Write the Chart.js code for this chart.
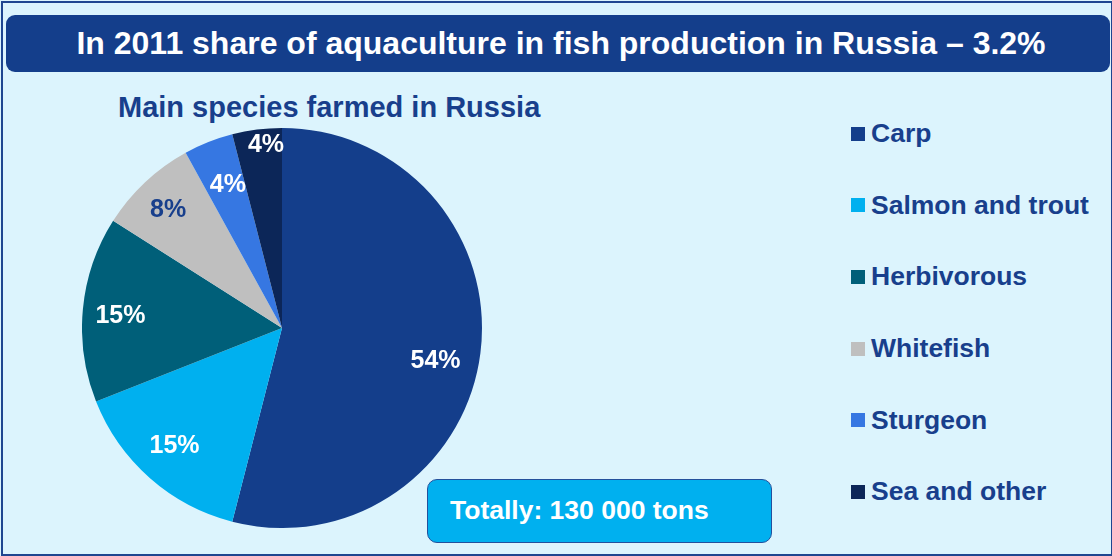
<!DOCTYPE html>
<html>
<head>
<meta charset="utf-8">
<script src="https://cdn.jsdelivr.net/npm/chart.js@4"></script>
<style>
  html, body { margin: 0; padding: 0; }
  body {
    width: 1112px; height: 556px; overflow: hidden; position: relative;
    background: #dcf4fd;
    font-family: "Liberation Sans", Arial, sans-serif;
  }
  #frame {
    position: absolute; left: 1px; top: 1px; width: 1108px; height: 551px;
    border: 2px solid #1f4690; box-sizing: content-box;
  }
  #title {
    position: absolute; left: 6px; top: 15px; width: 1104px; height: 57px;
    background: #143e8b; border-radius: 9px;
    color: #fff; font-weight: bold; font-size: 32px;
    line-height: 57px; text-align: center; padding-left: 6px; box-sizing: border-box;
  }
  #subtitle {
    position: absolute; left: 118px; top: 91px;
    color: #183f8c; font-weight: bold; font-size: 29px; line-height: 32px;
  }
  #pie { position: absolute; left: 82px; top: 128px; }
  #legend { position: absolute; left: 851px; top: 98px; }
  .row { height: 71.6px; display: flex; align-items: center; }
  .box { width: 14px; height: 14px; margin-right: 6px; }
  .row span { color: #183f8c; font-weight: bold; font-size: 26.5px; }
  #total {
    position: absolute; left: 427px; top: 479px; width: 345px; height: 64px;
    background: #00b0ef; border: 1.5px solid #24509c; border-radius: 10px;
    box-sizing: border-box; color: #fff; font-weight: bold; font-size: 26.5px;
    line-height: 61px; padding-left: 22px;
  }
</style>
</head>
<body>
<div id="frame"></div>
<div id="title">In 2011 share of aquaculture in fish production in Russia – 3.2%</div>
<div id="subtitle">Main species farmed in Russia</div>
<canvas id="pie" width="400" height="400"></canvas>
<div id="legend"></div>
<div id="total">Totally: 130 000 tons</div>

<script>
const species = ["Carp", "Salmon and trout", "Herbivorous", "Whitefish", "Sturgeon", "Sea and other"];
const shares = [54, 15, 15, 8, 4, 4];
const sliceColors = ["#143e8b", "#00b0ef", "#005f79", "#bfbfbf", "#3677e2", "#0c2658"];
const labelColors = ["#fff", "#fff", "#fff", "#183f8c", "#fff", "#fff"];
// label placement: share of radius and small turn (deg) off the slice middle
const labelRadius = [0.785, 0.8, 0.81, 0.82, 0.765, 0.92];
const labelTurn = [4.8, 0.8, -1.2, -0.8, 0.9, 2.2];

// legend built from the same arrays
const legend = document.getElementById("legend");
species.forEach((name, i) => {
    const row = document.createElement("div");
    row.className = "row";
    row.innerHTML = `<div class="box" style="background:${sliceColors[i]}"></div><span>${name}</span>`;
    legend.appendChild(row);
});

// draw the % labels on the slices
const sliceLabels = {
    id: "sliceLabels",
    afterDatasetsDraw(chart) {
        const ctx = chart.ctx;
        const meta = chart.getDatasetMeta(0);
        ctx.save();
        ctx.font = "bold 25px 'Liberation Sans', Arial, sans-serif";
        ctx.textAlign = "center";
        ctx.textBaseline = "middle";
        meta.data.forEach((arc, i) => {
            const mid = (arc.startAngle + arc.endAngle) / 2 + labelTurn[i] * Math.PI / 180;
            const r = arc.outerRadius * labelRadius[i];
            const x = arc.x + Math.cos(mid) * r;
            const y = arc.y + Math.sin(mid) * r;
            ctx.fillStyle = labelColors[i];
            ctx.fillText(shares[i] + "%", x, y);
        });
        ctx.restore();
    }
};

new Chart(document.getElementById("pie").getContext("2d"), {
    type: "pie",
    data: {
        labels: species,
        datasets: [{
            data: shares,
            backgroundColor: sliceColors,
            borderWidth: 0
        }]
    },
    options: {
        responsive: false,
        animation: false,
        layout: { padding: 0 },
        plugins: {
            legend: { display: false },
            tooltip: { enabled: false }
        }
    },
    plugins: [sliceLabels]
});
</script>
</body>
</html>
